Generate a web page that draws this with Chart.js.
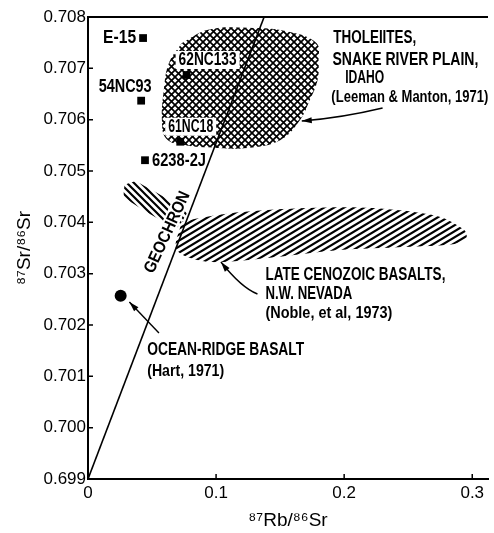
<!DOCTYPE html>
<html><head><meta charset="utf-8">
<script src="https://cdn.jsdelivr.net/npm/chart.js@4.4.0/dist/chart.umd.min.js"></script>
<style>html,body{margin:0;padding:0;background:#fff}canvas{display:block}</style>
</head><body>
<canvas id="c" width="494" height="533"></canvas>
<script>
const FONT = "'Liberation Sans','Arimo',Arial,sans-serif";

// ---- axis ticks ----
const xTickValues = [0, 0.1, 0.2, 0.3];
const xTickLabels = ['0', '0.1', '0.2', '0.3'];
const yTickValues = [0.699, 0.700, 0.701, 0.702, 0.703, 0.704, 0.705, 0.706, 0.707, 0.708];
const yTickLabels = ['0.699', '0.700', '0.701', '0.702', '0.703', '0.704', '0.705', '0.706', '0.707', '0.708'];

// ---- samples (squares) ----
const sampleNames = ['E-15', '54NC93', '62NC133', '61NC18', '6238-2J'];
const sampleRb = [0.0430, 0.0415, 0.0770, 0.0720, 0.0445];
const sampleSr = [0.70759, 0.70637, 0.70687, 0.70557, 0.70521];

// ---- ocean-ridge basalt (dot) ----
const oceanRb = [0.0255];
const oceanSr = [0.70257];

// ---- geochron ----
const geochronRb = [0, 0.1375];
const geochronSr = [0.699, 0.708];

// ---- Snake River Plain tholeiites field (outline) ----
const snakeRb = [0.0731, 0.0938, 0.1246, 0.1577, 0.1785, 0.1800, 0.1792, 0.1731, 0.1654, 0.1500, 0.1246, 0.1015, 0.0731, 0.0608, 0.0577, 0.0592, 0.0631];
const snakeSr = [0.70749, 0.70775, 0.70779, 0.70771, 0.70749, 0.70716, 0.70677, 0.70638, 0.70599, 0.70560, 0.70545, 0.70545, 0.70551, 0.70564, 0.70599, 0.70658, 0.70710];

// ---- NW Nevada late Cenozoic basalts field (outline, main band) ----
const nevadaRb = [0.0731, 0.0862, 0.1192, 0.1708, 0.2223, 0.2731, 0.2938, 0.2954, 0.2862, 0.2477, 0.1962, 0.1454, 0.0938, 0.0692];
const nevadaSr = [0.70401, 0.70408, 0.70420, 0.70428, 0.70428, 0.70412, 0.70385, 0.70369, 0.70358, 0.70352, 0.70346, 0.70332, 0.70323, 0.70346];

// ---- NW Nevada field, part left of the geochron ----
const nevadaLeftRb = [0.0285, 0.0377, 0.0769, 0.0731, 0.0685, 0.0285];
const nevadaLeftSr = [0.70473, 0.70479, 0.70420, 0.70401, 0.70389, 0.70449];

// ---- annotation texts ----
const noteTexts = ['THOLEIITES,', 'SNAKE RIVER PLAIN,', 'IDAHO', '(Leeman & Manton, 1971)',
  'LATE CENOZOIC BASALTS,', 'N.W. NEVADA', '(Noble, et al, 1973)',
  'OCEAN-RIDGE BASALT', '(Hart, 1971)'];
const noteRb = [0.1915, 0.1908, 0.2008, 0.1900, 0.1385, 0.1385, 0.1385, 0.0462, 0.0462];
const noteSr = [0.70759, 0.70716, 0.70681, 0.70644, 0.70297, 0.70260, 0.70223, 0.70151, 0.70110];

// arrows: tail, control, tip (data units)
const arrowTailRb = [0.2300, 0.1323, 0.0554];
const arrowTailSr = [0.706227, 0.702604, 0.701844];
const arrowCtrlRb = [0.1977, 0.1200, null];
const arrowCtrlSr = [0.706033, 0.702721, null];
const arrowTipRb = [0.1669, 0.1038, 0.0323];
const arrowTipSr = [0.705974, 0.703227, 0.702448];

// ---------- styles (pixel sizes) ----------
const noteWidths = [83, 146, 39, 157, 180, 87, 127, 157, 77];
const sampleLabelWidths = [33, 53, 58, 45, 54];
const sampleLabelStyle = [
  {dx: -7, dy: 0, align: 'right'},
  {dx: -16, dy: -14, align: 'center'},
  {dx: -8, dy: -15, align: 'left', bg: true},
  {dx: -12, dy: -15, align: 'left', bg: true},
  {dx: 7, dy: 1, align: 'left'}
];

const canvas = document.getElementById('c');
const ctx0 = canvas.getContext('2d');

function crossPattern(size, lw) {
  const t = document.createElement('canvas');
  t.width = size; t.height = size;
  const g = t.getContext('2d');
  g.strokeStyle = '#000'; g.lineWidth = lw;
  g.beginPath();
  g.moveTo(-1, -1); g.lineTo(size + 1, size + 1);
  g.moveTo(-1, size + 1); g.lineTo(size + 1, -1);
  g.stroke();
  return ctx0.createPattern(t, 'repeat');
}
// slanted lines: w = horizontal period, h = vertical period; rising ('/') or falling ('\')
function slantPattern(w, h, lw, rising) {
  const t = document.createElement('canvas');
  t.width = w; t.height = h;
  const g = t.getContext('2d');
  g.strokeStyle = '#000'; g.lineWidth = lw; g.lineCap = 'butt';
  g.beginPath();
  for (let k = -1; k <= 2; k++) {
    if (rising) { g.moveTo(-w, k * h + h); g.lineTo(2 * w, k * h - 2 * h); }
    else { g.moveTo(-w, k * h - h); g.lineTo(2 * w, k * h + 2 * h); }
  }
  g.stroke();
  return ctx0.createPattern(t, 'repeat');
}

const pts = (xs, ys) => xs.map((v, i) => ({x: v, y: ys[i]}));
const closed = (xs, ys) => { const p = pts(xs, ys); p.push(p[0]); return p; };

// draw text squeezed horizontally to a given width; x is the left edge
function fitText(ctx, text, x, y, width) {
  const w = ctx.measureText(text).width;
  const sx = width / w;
  ctx.save();
  ctx.translate(x, y); ctx.scale(sx, 1);
  ctx.textAlign = 'left';
  ctx.fillText(text, 0, 0);
  ctx.restore();
}

const annotPlugin = {
  id: 'annot',
  afterDatasetsDraw(chart) {
    const {ctx, chartArea: ca, scales: {x, y}} = chart;
    ctx.save();
    ctx.strokeStyle = '#000'; ctx.fillStyle = '#000';
    // top frame line
    ctx.lineWidth = 2;
    ctx.beginPath(); ctx.moveTo(ca.left - 1, ca.top); ctx.lineTo(ca.right, ca.top); ctx.stroke();
    // inside ticks
    ctx.lineWidth = 1.5;
    ctx.beginPath();
    yTickValues.forEach(v => { const py = y.getPixelForValue(v); ctx.moveTo(ca.left, py); ctx.lineTo(ca.left + 5, py); });
    xTickValues.forEach(v => { const px = x.getPixelForValue(v); ctx.moveTo(px, ca.bottom); ctx.lineTo(px, ca.bottom - 5); });
    ctx.stroke();

    ctx.textBaseline = 'middle';
    // sample labels
    ctx.font = 'bold 18px ' + FONT;
    sampleNames.forEach((name, i) => {
      const s = sampleLabelStyle[i];
      const w = sampleLabelWidths[i];
      const px = x.getPixelForValue(sampleRb[i]) + s.dx;
      const py = y.getPixelForValue(sampleSr[i]) + s.dy;
      const x0 = s.align === 'left' ? px : s.align === 'right' ? px - w : px - w / 2;
      if (s.bg) {
        ctx.fillStyle = '#fff';
        ctx.fillRect(x0 - 3, py - 9, w + 6, 18);
        ctx.fillStyle = '#000';
      }
      fitText(ctx, name, x0, py, w);
    });

    // notes
    noteTexts.forEach((t, i) => {
      ctx.font = (t.startsWith('(') ? 'bold 17px ' : 'bold 18px ') + FONT;
      fitText(ctx, t, x.getPixelForValue(noteRb[i]), y.getPixelForValue(noteSr[i]), noteWidths[i]);
    });

    // arrows
    ctx.lineWidth = 1.4;
    arrowTipRb.forEach((_, i) => {
      const tail = {x: x.getPixelForValue(arrowTailRb[i]), y: y.getPixelForValue(arrowTailSr[i])};
      const tip = {x: x.getPixelForValue(arrowTipRb[i]), y: y.getPixelForValue(arrowTipSr[i])};
      const ctrl = arrowCtrlRb[i] === null ? null : {x: x.getPixelForValue(arrowCtrlRb[i]), y: y.getPixelForValue(arrowCtrlSr[i])};
      ctx.beginPath(); ctx.moveTo(tail.x, tail.y);
      if (ctrl) ctx.quadraticCurveTo(ctrl.x, ctrl.y, tip.x, tip.y); else ctx.lineTo(tip.x, tip.y);
      ctx.stroke();
      const from = ctrl || tail;
      const a = Math.atan2(tip.y - from.y, tip.x - from.x);
      const L = 10, W = 3;
      const c = Math.cos(a), s = Math.sin(a);
      ctx.beginPath();
      ctx.moveTo(tip.x, tip.y);
      ctx.lineTo(tip.x - L * c + W * s, tip.y - L * s - W * c);
      ctx.lineTo(tip.x - L * c - W * s, tip.y - L * s + W * c);
      ctx.closePath(); ctx.fill();
    });

    // GEOCHRON label along the line (on a white cut-out)
    const g0 = {x: x.getPixelForValue(geochronRb[0]), y: y.getPixelForValue(geochronSr[0])};
    const g1 = {x: x.getPixelForValue(geochronRb[1]), y: y.getPixelForValue(geochronSr[1])};
    const ang = Math.atan2(g1.y - g0.y, g1.x - g0.x) + 4 * Math.PI / 180;
    const f = 0.536;
    const cx = g0.x + (g1.x - g0.x) * f - 15, cy = g0.y + (g1.y - g0.y) * f + 1;
    ctx.save();
    ctx.translate(cx, cy); ctx.rotate(ang);
    ctx.fillStyle = '#fff';
    ctx.fillRect(-47, -9, 94, 16);
    ctx.fillStyle = '#000';
    ctx.font = 'bold 17px ' + FONT;
    fitText(ctx, 'GEOCHRON', -44, 0, 88);
    ctx.restore();
    ctx.restore();
  }
};

new Chart(canvas, {
  type: 'scatter',
  data: {
    datasets: [
      {label: 'Samples', data: pts(sampleRb, sampleSr), pointStyle: 'rect', pointRadius: 5.5,
        backgroundColor: '#000', borderWidth: 0, order: 0},
      {label: 'Ocean-ridge basalt', data: pts(oceanRb, oceanSr), pointStyle: 'circle', pointRadius: 6,
        backgroundColor: '#000', borderWidth: 0, order: 0},
      {label: 'Geochron', data: pts(geochronRb, geochronSr), showLine: true, pointRadius: 0,
        borderColor: '#000', borderWidth: 1.6, order: 1},
      {label: 'Snake River Plain', data: closed(snakeRb, snakeSr), showLine: true, pointRadius: 0,
        borderWidth: 0, borderColor: 'rgba(0,0,0,0)', fill: 'shape', tension: 0.4,
        backgroundColor: crossPattern(7, 1.7), order: 2},
      {label: 'NW Nevada', data: closed(nevadaRb, nevadaSr), showLine: true, pointRadius: 0,
        borderWidth: 0, borderColor: 'rgba(0,0,0,0)', fill: 'shape', tension: 0.3,
        backgroundColor: slantPattern(10, 6, 2.2, true), order: 3},
      {label: 'NW Nevada (left)', data: closed(nevadaLeftRb, nevadaLeftSr), showLine: true, pointRadius: 0,
        borderWidth: 0, borderColor: 'rgba(0,0,0,0)', fill: 'shape', tension: 0.2,
        backgroundColor: slantPattern(7, 7, 2.2, false), order: 3}
    ]
  },
  options: {
    responsive: false,
    animation: false,
    events: [],
    layout: {padding: {top: 17, right: 0, left: 0, bottom: 0}},
    plugins: {legend: {display: false}, tooltip: {enabled: false}},
    scales: {
      x: {
        type: 'linear', position: 'bottom', min: 0, max: 0.3123,
        afterBuildTicks: s => { s.ticks = xTickValues.map(v => ({value: v})); },
        afterFit: s => { s.height = 54; },
        grid: {display: false, drawTicks: false},
        border: {display: true, color: '#000', width: 2},
        ticks: {padding: 4, color: '#000', font: {family: FONT, size: 17}, maxRotation: 0, autoSkip: false,
          callback: (v, i) => xTickLabels[i]},
        title: {display: true, text: '⁸⁷Rb/⁸⁶Sr', color: '#000', font: {family: FONT, size: 19}, padding: {top: 0, bottom: 1}}
      },
      y: {
        type: 'linear', position: 'left', min: 0.699, max: 0.708,
        afterBuildTicks: s => { s.ticks = yTickValues.map(v => ({value: v})); },
        afterFit: s => { s.width = 88; },
        grid: {display: false, drawTicks: false},
        border: {display: true, color: '#000', width: 2},
        ticks: {padding: 2, color: '#000', font: {family: FONT, size: 17}, autoSkip: false,
          callback: (v, i) => yTickLabels[i]},
        title: {display: true, text: '⁸⁷Sr/⁸⁶Sr', color: '#000', font: {family: FONT, size: 19}, padding: {top: 13, bottom: 0}}
      }
    }
  },
  plugins: [annotPlugin]
});
</script>
</body></html>
